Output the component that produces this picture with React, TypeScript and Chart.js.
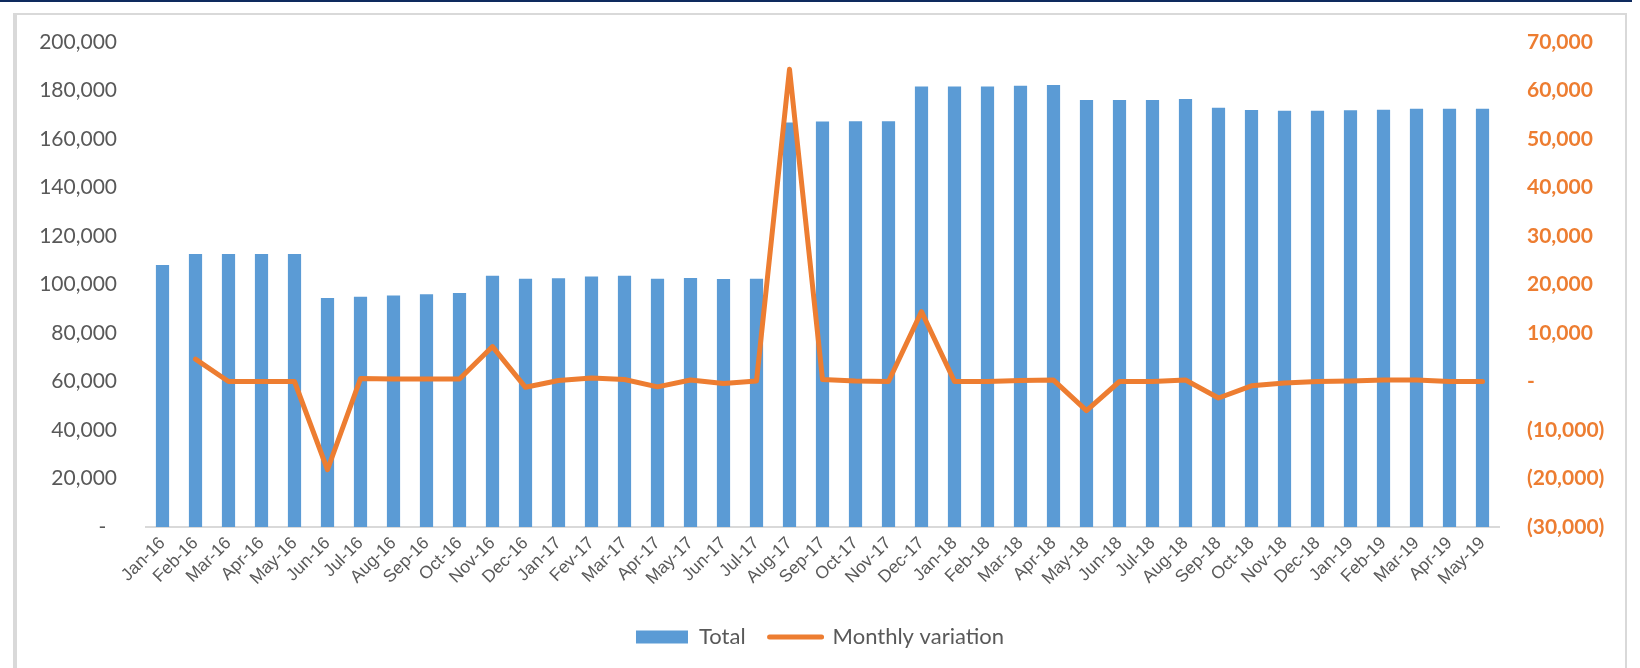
import React, { useEffect, useRef } from "react";
import { Chart, registerables } from "chart.js";

Chart.register(...registerables);

const categories = [
  "Jan-16", "Feb-16", "Mar-16", "Apr-16", "May-16", "Jun-16", "Jul-16", "Aug-16", "Sep-16", "Oct-16", "Nov-16", "Dec-16",
  "Jan-17", "Fev-17", "Mar-17", "Apr-17", "May-17", "Jun-17", "Jul-17", "Aug-17", "Sep-17", "Oct-17", "Nov-17", "Dec-17",
  "Jan-18", "Feb-18", "Mar-18", "Apr-18", "May-18", "Jun-18", "Jul-18", "Aug-18", "Sep-18", "Oct-18", "Nov-18", "Dec-18",
  "Jan-19", "Feb-19", "Mar-19", "Apr-19", "May-19",
];

const totalValues = [
  108000, 112600, 112600, 112600, 112600, 94400, 95000, 95500, 96000, 96500, 103600, 102400,
  102600, 103300, 103600, 102400, 102700, 102300, 102400, 166800, 167200, 167300, 167300, 181700,
  181700, 181700, 182000, 182300, 176100, 176100, 176100, 176500, 172900, 172000, 171700, 171700,
  171900, 172100, 172500, 172500, 172500,
];

const monthlyVariation = [
  null, 4600, 0, 0, 0, -18200, 600, 500, 500, 500, 7200, -1200,
  200, 700, 400, -1100, 300, -400, 100, 64400, 400, 100, 0, 14400,
  0, 0, 200, 300, -6000, 0, 0, 300, -3400, -900, -300, 0,
  100, 300, 300, 0, 0,
];

const leftTicks = { min: 0, max: 200000, step: 20000 };
const rightTicks = { min: -30000, max: 70000, step: 10000 };

const BAR_COLOR = "#5B9BD5";
const LINE_COLOR = "#ED7D31";
const TEXT_COLOR = "#595959";

const fmt = (n: number) => String(Math.round(Math.abs(n))).replace(/\B(?=(\d{3})+(?!\d))/g, ",");

export default function App() {
  const canvasRef = useRef<HTMLCanvasElement | null>(null);

  useEffect(() => {
    if (!canvasRef.current) return;
    const chart = new Chart(canvasRef.current, {
      type: "bar",
      data: {
        labels: categories,
        datasets: [
          {
            type: "bar",
            label: "Total",
            data: totalValues,
            backgroundColor: BAR_COLOR,
            borderWidth: 0,
            barPercentage: 0.4,
            categoryPercentage: 1,
            yAxisID: "y",
            order: 2,
          },
          {
            type: "line",
            label: "Monthly variation",
            data: monthlyVariation as any,
            borderColor: LINE_COLOR,
            backgroundColor: LINE_COLOR,
            borderWidth: 5,
            borderCapStyle: "round",
            borderJoinStyle: "round",
            pointRadius: 0,
            tension: 0,
            yAxisID: "y1",
            order: 1,
          },
        ],
      },
      options: {
        responsive: false,
        animation: false,
        events: [],
        layout: { padding: { top: 42, bottom: 10, left: 0, right: 0 } },
        plugins: {
          tooltip: { enabled: false },
          legend: {
            position: "bottom",
            labels: {
              usePointStyle: true,
              pointStyleWidth: 52,
              boxHeight: 13,
              padding: 24,
              color: TEXT_COLOR,
              font: { family: "Lato", size: 22 },
              sort: (a: any, b: any) => a.datasetIndex - b.datasetIndex,
              generateLabels: (c: any) => {
                const items = (Chart.defaults.plugins.legend.labels as any).generateLabels(c);
                items.forEach((it: any) => {
                  if (it.datasetIndex === 0) {
                    it.pointStyle = "rect";
                    it.lineWidth = 0;
                    it.fillStyle = BAR_COLOR;
                    it.strokeStyle = BAR_COLOR;
                  } else {
                    it.pointStyle = "line";
                    it.lineWidth = 5;
                    it.lineCap = "round";
                    it.fillStyle = LINE_COLOR;
                    it.strokeStyle = LINE_COLOR;
                  }
                });
                return items;
              },
            },
          },
        },
        scales: {
          x: {
            offset: true,
            grid: { display: false, drawTicks: false },
            border: { display: true, color: "#D9D9D9", width: 2 },
            ticks: {
              autoSkip: false,
              minRotation: 45,
              maxRotation: 45,
              padding: 6,
              color: TEXT_COLOR,
              font: { family: "'Liberation Sans', Arial, sans-serif", size: 17.5 },
            },
            afterFit: (s: any) => {
              s.height = 75;
            },
          },
          y: {
            position: "left",
            min: leftTicks.min,
            max: leftTicks.max,
            grid: { display: false, drawTicks: false },
            border: { display: false },
            ticks: {
              stepSize: leftTicks.step,
              padding: 29,
              color: TEXT_COLOR,
              font: { family: "Lato", size: 21 },
              callback: (v: any) => (Number(v) === 0 ? "-  " : fmt(Number(v))),
            },
            afterFit: (s: any) => {
              s.width = 146;
            },
          },
          y1: {
            position: "right",
            min: rightTicks.min,
            max: rightTicks.max,
            grid: { display: false, drawTicks: false },
            border: { display: false },
            ticks: {
              stepSize: rightTicks.step,
              padding: 28,
              color: LINE_COLOR,
              font: { family: "Lato", size: 21, weight: "bold" },
              callback: (v: any) => {
                const n = Number(v);
                if (n === 0) return "-";
                return n < 0 ? "(" + fmt(n) + ")" : fmt(n);
              },
            },
            afterFit: (s: any) => {
              s.width = 141;
            },
          },
        },
      } as any,
    });
    return () => chart.destroy();
  }, []);

  return (
    <div style={{ position: "fixed", left: 0, top: 0, width: 1640, height: 668, background: "#ffffff", overflow: "hidden" }}>
      <div style={{ position: "absolute", left: 0, top: 0, width: 1632, height: 2, background: "#0E2A5E" }} />
      <div
        style={{
          position: "absolute",
          left: 13,
          top: 13,
          width: 1608,
          height: 700,
          borderStyle: "solid",
          borderColor: "#D9D9D9",
          borderWidth: "2px 2px 0 4px",
        }}
      />
      <canvas ref={canvasRef} width={1640} height={668} style={{ position: "absolute", left: 0, top: 0 }} />
    </div>
  );
}
